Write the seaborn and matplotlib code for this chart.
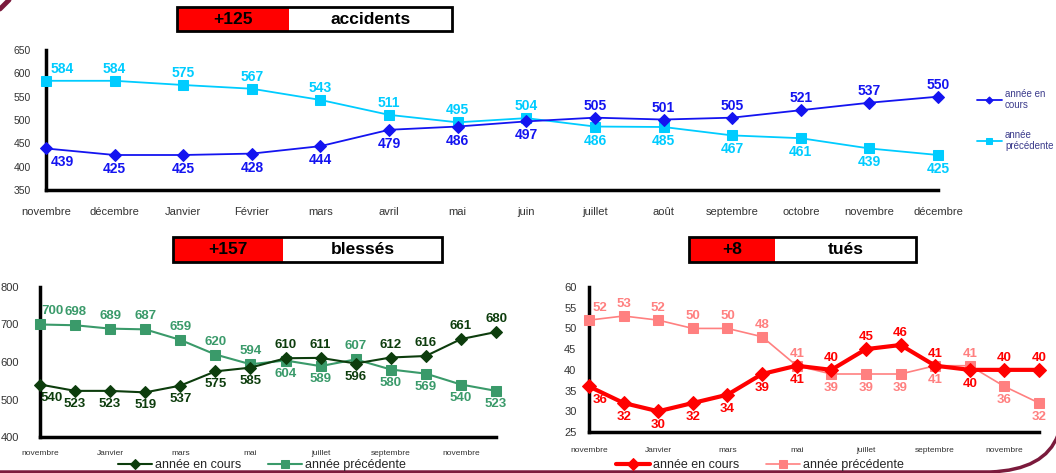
import matplotlib
matplotlib.use("Agg")
import pandas as pd
import matplotlib.pyplot as plt
import seaborn as sns
from matplotlib.patches import Rectangle, PathPatch
from matplotlib.path import Path
from matplotlib.lines import Line2D

# Données
mois = ["novembre", "décembre", "Janvier", "Février", "mars", "avril", "mai",
        "juin", "juillet", "août", "septembre", "octobre", "novembre", "décembre"]

acc_cours = [439, 425, 425, 428, 444, 479, 486, 497, 505, 501, 505, 521, 537, 550]
acc_prec = [584, 584, 575, 567, 543, 511, 495, 504, 486, 485, 467, 461, 439, 425]

bles_cours = [540, 523, 523, 519, 537, 575, 585, 610, 611, 596, 612, 616, 661, 680]
bles_prec = [700, 698, 689, 687, 659, 620, 594, 604, 589, 607, 580, 569, 540, 523]

tues_cours = [36, 32, 30, 32, 34, 39, 41, 40, 45, 46, 41, 40, 40, 40]
tues_prec = [52, 53, 52, 50, 50, 48, 41, 39, 39, 39, 41, 41, 36, 32]

ecarts = ["+125", "+157", "+8"]
titres = ["accidents", "blessés", "tués"]
series = ["année en cours", "année précédente"]

sns.set_theme(style="white")
plt.rcParams["font.family"] = ["Liberation Sans", "DejaVu Sans"]

W, H = 1056, 473
fig = plt.figure(figsize=(W / 100, H / 100), dpi=100)


def px_ax(l, r, t, b):
    return fig.add_axes([l / W, (H - b) / H, (r - l) / W, (b - t) / H])


def tracer(ax, cours, prec, c1, c2, lw1, lw2, ms1, ms2):
    x = list(range(len(cours)))
    df = pd.DataFrame({"x": x + x, "v": cours + prec,
                       "serie": [series[0]] * len(x) + [series[1]] * len(x)})
    sns.lineplot(data=df[df.serie == series[0]], x="x", y="v", ax=ax, color=c1,
                 marker="D", markersize=ms1, markeredgecolor=c1, linewidth=lw1,
                 label=series[0], clip_on=False, zorder=4)
    sns.lineplot(data=df[df.serie == series[1]], x="x", y="v", ax=ax, color=c2,
                 marker="s", markersize=ms2, markeredgecolor=c2, linewidth=lw2,
                 label=series[1], clip_on=False, zorder=3)
    ax.get_legend().remove()
    ax.set_xlim(0, len(x) - 1)
    ax.set_xlabel("")
    ax.set_ylabel("")
    for s in ["top", "right"]:
        ax.spines[s].set_visible(False)
    for s in ["left", "bottom"]:
        ax.spines[s].set_linewidth(2.5)
        ax.spines[s].set_color("black")
    ax.set_facecolor("white")
    ax.grid(False)


def etiquettes(ax, valeurs, autres, couleur, dx0, up, down, fs):
    haut = False
    for i, v in enumerate(valeurs):
        if v != autres[i]:
            haut = v > autres[i]
        dy = up if haut else -down
        dx = dx0 if i == 0 else 0
        ax.annotate(str(v), (i, v), xytext=(dx, dy), textcoords="offset pixels",
                    ha="center", va="center", fontsize=fs, fontweight="bold",
                    color=couleur, annotation_clip=False)


def cadre(x0, xr, x1, y0, y1, chiffre, titre):
    fig.add_artist(Rectangle((x0 / W, 1 - y1 / H), (xr - x0) / W, (y1 - y0) / H,
                             transform=fig.transFigure, facecolor="#ff0000",
                             edgecolor="none"))
    fig.add_artist(Rectangle((x0 / W, 1 - y1 / H), (x1 - x0) / W, (y1 - y0) / H,
                             transform=fig.transFigure, facecolor="none",
                             edgecolor="black", linewidth=2))
    ym = 1 - (y0 + y1) / 2 / H
    fig.text((x0 + xr) / 2 / W, ym, chiffre, ha="center", va="center",
             fontsize=12.5, fontweight="bold", color="black")
    fig.text((xr + x1) / 2 / W, ym, titre, ha="center", va="center",
             fontsize=12.5, fontweight="bold", color="black")


# --- accidents ---
ax1 = px_ax(46, 938, 50, 190)
tracer(ax1, acc_cours, acc_prec, "#1414f0", "#00ccff", 1.3, 1.3, 6, 7)
ax1.set_ylim(350, 650)
ax1.set_yticks(range(350, 651, 50))
ax1.set_xticks(range(len(mois)))
ax1.set_xticklabels(mois)
ax1.tick_params(axis="x", length=3, width=1.5, pad=9, labelsize=8, labelcolor="#333333")
ax1.tick_params(axis="y", length=3, width=1.5, pad=8, labelsize=7.5, labelcolor="#333333")
etiquettes(ax1, acc_cours, acc_prec, "#1414f0", 16, 12, 14, 10)
etiquettes(ax1, acc_prec, acc_cours, "#00ccff", 16, 12, 14, 10)
h, _ = ax1.get_legend_handles_labels()
fig.legend(h, ["année en\ncours", "année\nprécédente"], loc="upper left",
           bbox_to_anchor=(968 / W, 1 - 80 / H), frameon=False, fontsize=7,
           labelcolor="#3c3c8c", handlelength=2.6, labelspacing=2.0,
           markerscale=0.6, handletextpad=0.3)

# --- blessés ---
ax2 = px_ax(40, 496, 287, 437)
tracer(ax2, bles_cours, bles_prec, "#0d3d0d", "#3a9a6a", 1.5, 1.5, 6, 7)
ax2.set_ylim(400, 800)
ax2.set_yticks(range(400, 801, 100))

# --- tués ---
ax3 = px_ax(589, 1039, 287, 432)
tracer(ax3, tues_cours, tues_prec, "#ff0000", "#ff8080", 3, 1.2, 7, 7)
ax3.set_ylim(25, 60)
ax3.set_yticks(range(25, 61, 5))

for ax in (ax2, ax3):
    ax.set_xticks(range(len(mois)))
    ax.set_xticklabels([m if i % 2 == 0 else "" for i, m in enumerate(mois)])
    ax.tick_params(axis="x", length=3, width=1.5, pad=6, labelsize=6, labelcolor="#333333")
    ax.tick_params(axis="y", length=3, width=1.5, pad=6, labelsize=8, labelcolor="#333333")

ax2.tick_params(axis="y", pad=12)
ax3.tick_params(axis="x", pad=8)
etiquettes(ax2, bles_cours, bles_prec, "#0d3d0d", 12, 13, 13, 9.5)
etiquettes(ax2, bles_prec, bles_cours, "#3a9a6a", 12, 13, 13, 9.5)
etiquettes(ax3, tues_cours, tues_prec, "#ff0000", 11, 12, 14, 9.5)
etiquettes(ax3, tues_prec, tues_cours, "#ff8080", 11, 12, 14, 9.5)

for ax, cx in ((ax2, 262), (ax3, 760)):
    h, l = ax.get_legend_handles_labels()
    fig.legend(h, l, loc="center", bbox_to_anchor=(cx / W, 1 - 465 / H),
               frameon=False, fontsize=9, ncol=2, handlelength=2.7,
               columnspacing=2.2, handletextpad=0.2, markerscale=0.9,
               borderpad=0.1)

cadre(177, 289, 452, 7, 31, ecarts[0], titres[0])
cadre(173, 283, 442, 237, 262, ecarts[1], titres[1])
cadre(689, 775, 916, 237, 262, ecarts[2], titres[2])

# bordure de la diapositive
bord = "#7b1a3c"
verts = [(0, 472), (990, 472), (1045, 470), (1058, 435)]
codes = [Path.MOVETO, Path.LINETO, Path.CURVE3, Path.CURVE3]
verts = [(x / W, 1 - y / H) for x, y in verts]
fig.add_artist(PathPatch(Path(verts, codes), transform=fig.transFigure,
                         facecolor="none", edgecolor=bord, linewidth=2.5))
fig.add_artist(Line2D([0, 9 / W], [1 - 9 / H, 1], transform=fig.transFigure,
                      color=bord, linewidth=3.5))

fig.savefig("out.png", dpi=100)
